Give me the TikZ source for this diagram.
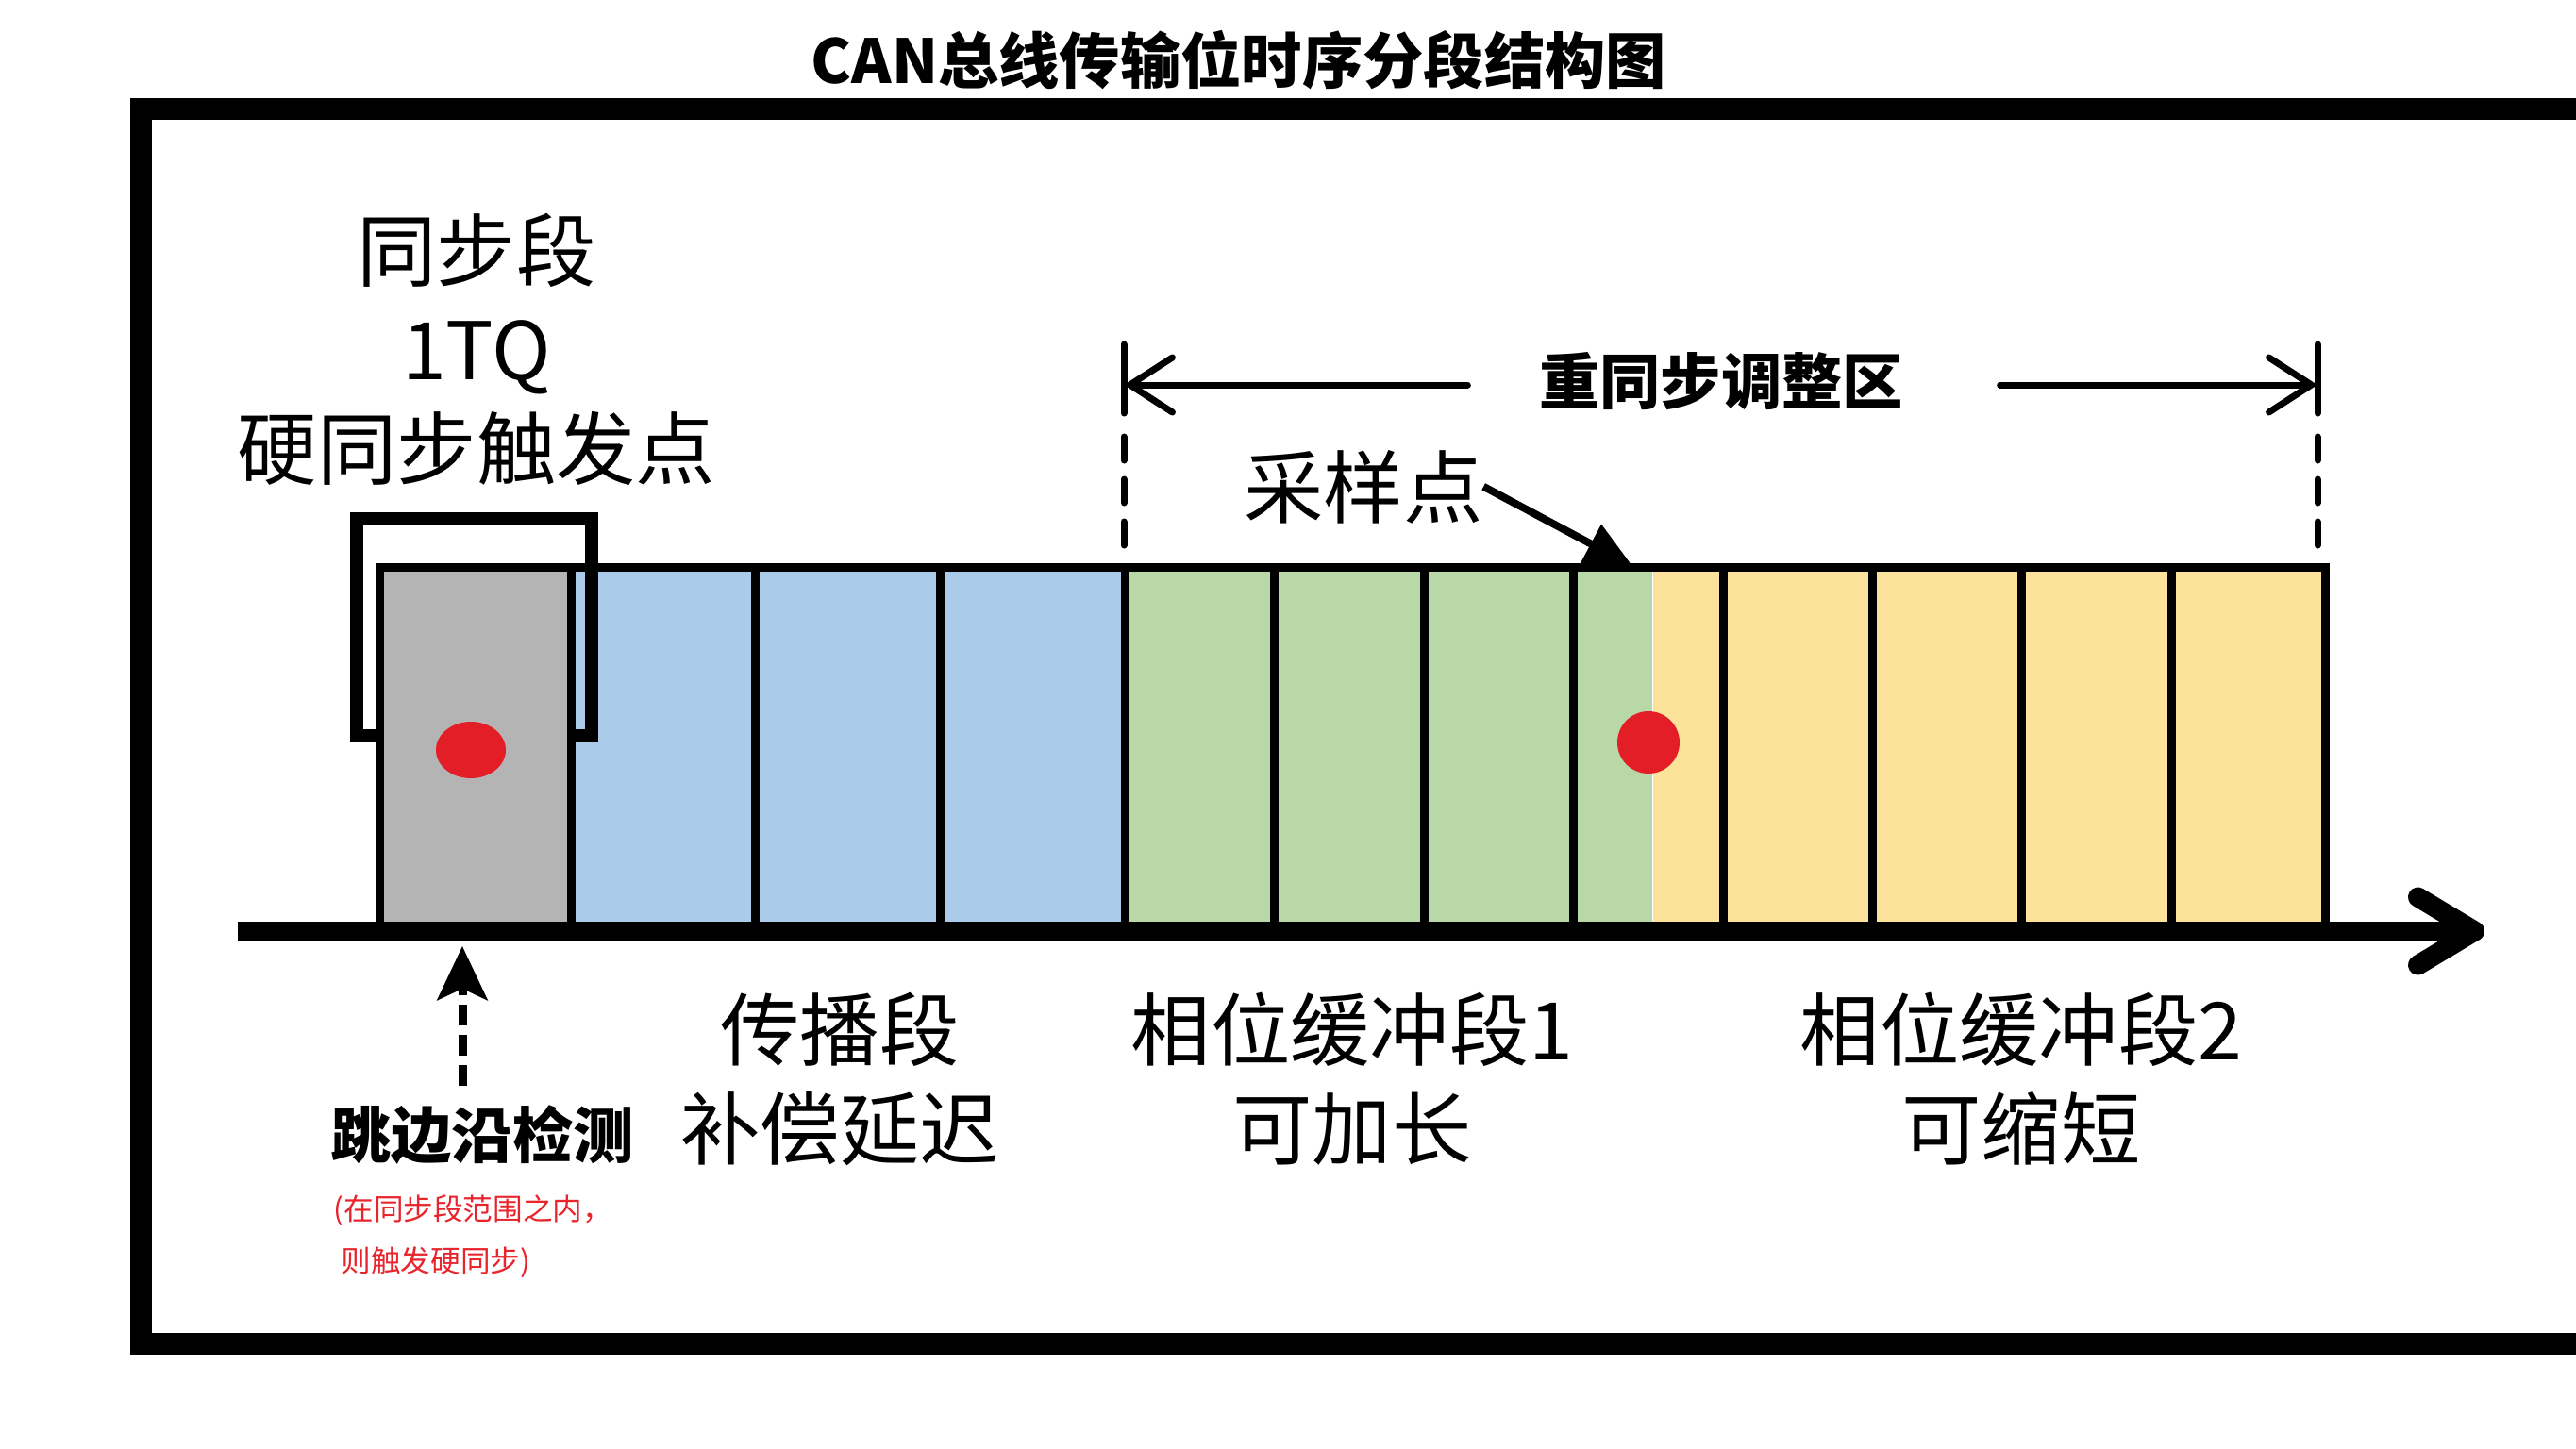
\documentclass[tikz,border=0pt]{standalone}
\usepackage{fontspec}
\setmainfont{Noto Sans CJK SC}
\usepackage{xcolor}
\usetikzlibrary{shapes,arrows.meta,positioning}

\definecolor{syncgray}{HTML}{B4B4B4}
\definecolor{propblue}{HTML}{ABCBEA}
\definecolor{phonegreen}{HTML}{B8D8A8}
\definecolor{phtwoyellow}{HTML}{FBE39C}
\definecolor{dotred}{HTML}{E41E26}
\definecolor{notered}{HTML}{E8242C}

\newcommand{\segfont}{\fontsize{24pt}{29.8pt}\selectfont}
\newcommand{\headfont}{\fontsize{18.3pt}{22pt}\selectfont\bfseries}
\newcommand{\notefont}{\fontsize{9pt}{15.4pt}\selectfont}

\tikzstyle{seg} = [draw=none, inner sep=0pt, anchor=south west, minimum height=3.84cm]
\tikzstyle{cell} = [draw, line width=0.09cm]
\tikzstyle{seglabel} = [align=center, font=\segfont, inner sep=0pt, anchor=base]
\tikzstyle{headlabel} = [font=\headfont, inner sep=0pt, anchor=base]
\tikzstyle{sampledot} = [ellipse, fill=dotred, inner sep=0pt]
\tikzstyle{outerframe} = [draw, line width=0.23cm]
\tikzstyle{bracket} = [draw, line width=0.14cm]
\tikzstyle{timeaxis} = [draw, line width=0.21cm, -{Straight Barb[length=0.6cm, width=0.72cm, line cap=round, line join=round]}]
\tikzstyle{dimline} = [draw, line width=0.07cm, line cap=round]
\tikzstyle{dimarrow} = [dimline, -{Straight Barb[length=0.45cm, width=0.58cm, line cap=round]}]
\tikzstyle{ptr} = [draw, line width=0.08cm, -{Triangle[length=0.5cm, width=0.45cm]}]
\tikzstyle{edgeptr} = [draw, line width=0.09cm, dash pattern=on 0.22cm off 0.1cm, -{Stealth[length=0.57cm, width=0.53cm, inset=0.12cm]}]

\begin{document}
\begin{tikzpicture}[node distance = 2cm, auto]
    \useasboundingbox (0,0) rectangle (27.3,-15.35);
    \clip (0,0) rectangle (27.3,-15.35);

    % Frame and title
    \draw[outerframe] (27.3,-1.15) -- (1.49,-1.15) -- (1.49,-14.24) -- (27.3,-14.24);
    \node[headlabel] (title) at (13.13,-0.88) {CAN总线传输位时序分段结构图};

    % Place segments
    \node[seg, fill=syncgray, minimum width=2.03cm] (sync) at (4.02,-9.87) {};
    \node[seg, fill=propblue, minimum width=5.87cm] (prop) at (sync.south east) {};
    \node[seg, fill=phonegreen, minimum width=5.55cm] (phase1) at (prop.south east) {};
    \node[seg, fill=phtwoyellow, minimum width=7.12cm] (phase2) at (phase1.south east) {};

    \draw[cell] (sync.north west) rectangle (phase2.south east);
    \foreach \x in {6.05,8.00,9.96,11.92,13.50,15.09,16.67,18.26,19.84,21.42,23.01}
        \draw[cell] (\x,-6.03) -- (\x,-9.87);

    % Time axis
    \coordinate (axisstart) at (2.52,-9.87);
    \coordinate (axisend) at (26.33,-9.87);
    \draw[timeaxis] (axisstart) -- (axisend);

    % Sample points
    \node[sampledot, minimum width=0.74cm, minimum height=0.60cm] (hardsync) at (4.99,-7.95) {};
    \node[sampledot, minimum size=0.66cm] (sample) at (17.47,-7.87) {};

    % Sync segment bracket
    \draw[bracket] (4.02,-7.80) -- (3.78,-7.80) -- (3.78,-5.50) -- (6.27,-5.50) -- (6.27,-7.80) -- (6.05,-7.80);

    % Labels
    \node[seglabel] (synclabel) at (5.05,-5.07) {同步段\\1TQ\\硬同步触发点};
    \node[seglabel] (proplabel) at (8.90,-12.28) {传播段\\补偿延迟};
    \node[seglabel] (phase1label) at (14.33,-12.28) {相位缓冲段1\\可加长};
    \node[seglabel] (phase2label) at (21.42,-12.28) {相位缓冲段2\\可缩短};
    \node[seglabel] (samplelabel) at (14.45,-5.48) {采样点};
    \node[headlabel] (edgelabel) at (5.11,-12.27) {跳边沿检测};
    \node[font=\notefont, text=notered, align=left, inner sep=0pt, anchor=base west] (note) at (3.53,-13.48)
        {(在同步段范围之内，\\\hspace*{0.08cm}则触发硬同步)};

    % Resync range
    \coordinate (dimL) at (11.91,-4.08);
    \coordinate (dimR) at (24.56,-4.08);
    \node[headlabel] (dimlabel) at (18.24,-4.28) {重同步调整区};
    \draw[dimarrow, shorten <=0.75cm] (dimlabel.west |- dimL) -- (dimL);
    \draw[dimarrow, shorten <=1.02cm] (dimlabel.east |- dimR) -- (dimR);
    \foreach \x in {11.91,24.56} {
        \draw[dimline] (\x,-3.65) -- (\x,-4.38);
        \draw[dimline, dash pattern=on 0.25cm off 0.2cm] (\x,-4.63) -- (\x,-5.80);
    }

    % Pointers
    \coordinate (sp) at (17.30,-6.00);
    \draw[ptr] (samplelabel.east) -- (sp);
    \coordinate (edgetip) at (4.90,-10.03);
    \draw[edgeptr, shorten <=0.19cm] (edgelabel.north -| edgetip) -- (edgetip);

\end{tikzpicture}
\end{document}
